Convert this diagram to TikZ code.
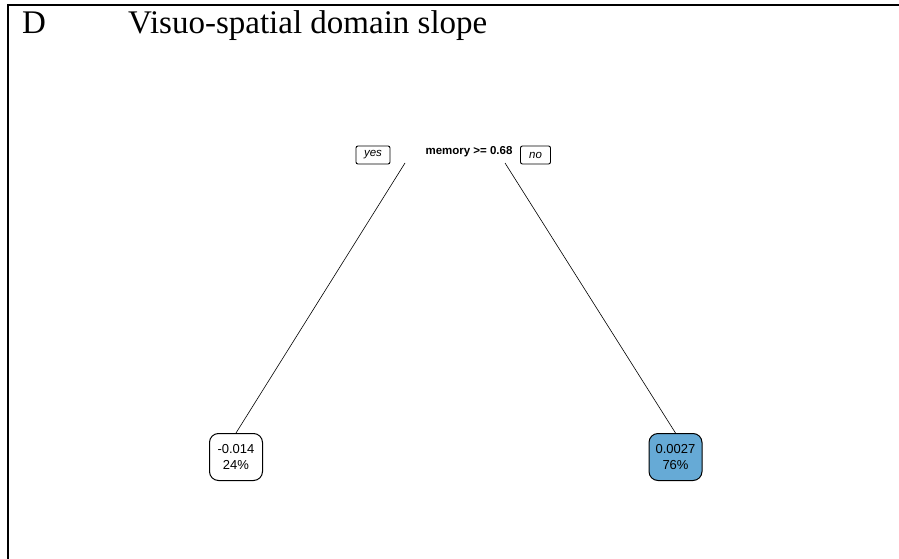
\documentclass[tikz,border=0pt]{standalone}
\usepackage{fontspec}
\setmainfont{Liberation Serif}
\newfontfamily\rsans{Liberation Sans}
\definecolor{leafblue}{RGB}{102,170,214}
\begin{document}
\begin{tikzpicture}[x=1pt,y=-1pt,
  lbl/.style={draw,line width=0.9pt,rounded corners=2pt,inner sep=1pt,font=\rsans\fontsize{11.5}{12}\selectfont\itshape,minimum height=18pt},
  leaf/.style={draw,line width=1pt,rounded corners=9pt,minimum width=53pt,minimum height=47pt,align=center,font=\rsans\fontsize{13}{16.5}\selectfont,inner sep=1pt},
  edge/.style={line width=0.6pt}]
\useasboundingbox (0,0) rectangle (899,559);
\draw[line width=2pt] (7.5,559) -- (7.5,5) -- (899,5);
\node[anchor=base west,font=\fontsize{33}{36}\selectfont,inner sep=0] (d) at (22,34) {D};
\node[anchor=base west,font=\fontsize{33}{36}\selectfont,inner sep=0] (title) at (128,34) {Visuo-spatial domain slope};
\node[font=\rsans\bfseries\fontsize{11.5}{13}\selectfont,inner sep=0] (root) at (469,152) {memory >= 0.68};
\node[lbl,minimum width=34pt] (yes) at (373,155) {yes};
\node[lbl,minimum width=30pt] (no) at (535.5,155) {no};
\coordinate (rl) at (405,163);
\coordinate (rr) at (505,163);
\node[leaf] (l1) at (236,457) {-0.014\\24\%};
\node[leaf,fill=leafblue] (l2) at (675.5,457) {0.0027\\76\%};
\draw[edge] (rl) -- (l1.north);
\draw[edge] (rr) -- (l2.north);
\end{tikzpicture}
\end{document}
